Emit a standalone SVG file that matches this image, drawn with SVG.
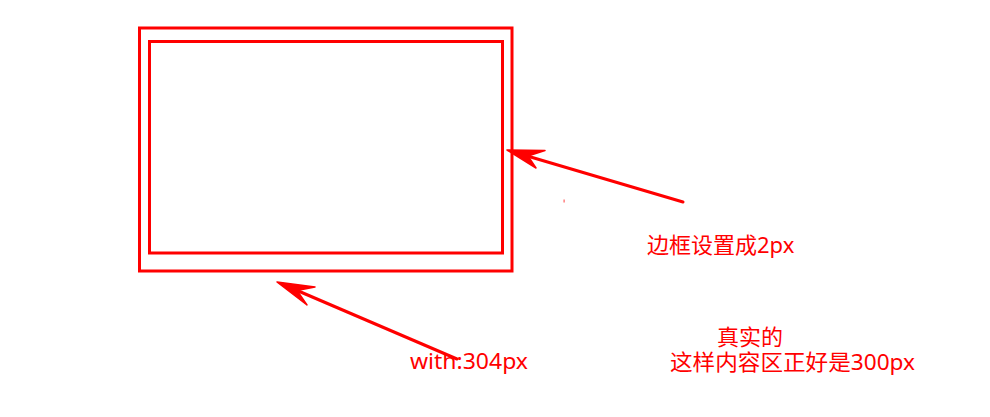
<svg xmlns="http://www.w3.org/2000/svg" width="990" height="417" viewBox="0 0 990 417">
<style>
.box{fill:none;stroke:#ff0000;stroke-width:3}
.line{stroke:#ff0000;stroke-width:3;stroke-linecap:round;fill:none}
.head{fill:#ff0000;stroke:#ff0000;stroke-width:1.5;stroke-linejoin:round}
.t{fill:#ff0000;font-family:"Microsoft YaHei","Noto Sans","Noto Sans CJK SC",sans-serif;font-size:22px}
</style>
<rect width="990" height="417" fill="#ffffff"/>
<g id="outer-box"><rect class="box" x="139.5" y="28" width="372.5" height="243"/></g>
<g id="inner-box"><rect class="box" x="149.5" y="41.5" width="353" height="211.5"/></g>
<g id="connectors">
<line class="line" x1="683" y1="202" x2="512" y2="151.5"/>
<polygon class="head" points="507,150 545,150.5 528,156 536,168"/>
<line class="line" x1="457" y1="359" x2="282" y2="284"/>
<polygon class="head" points="277,282 315,287 297,290.5 307,305"/>
</g>
<rect x="563.5" y="199.5" width="1.2" height="3" fill="#ff6060"/>
<g id="label-border"><text class="t" x="647" y="253">边框设置成2px</text></g>
<g id="label-width"><text class="t" x="410" y="369" textLength="118" lengthAdjust="spacingAndGlyphs">with:304px</text></g>
<g id="label-real"><text class="t" x="717" y="345">真实的</text>
<text class="t" x="670" y="370" textLength="245" lengthAdjust="spacingAndGlyphs">这样内容区正好是300px</text></g>
</svg>
